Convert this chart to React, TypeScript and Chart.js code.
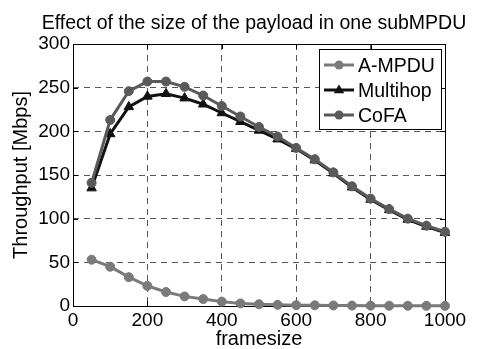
import React, { useEffect, useRef } from "react";
import { Chart, registerables } from "chart.js";

Chart.register(...registerables);

const frameSizes = [50, 100, 150, 200, 250, 300, 350, 400, 450, 500, 550, 600, 650, 700, 750, 800, 850, 900, 950, 1000];
const ampdu = [53, 45, 33, 23, 16, 11, 8, 5, 3, 2, 1.3, 1, 0.8, 0.6, 0.5, 0.4, 0.3, 0.3, 0.2, 0.2];
const multihop = [135, 197, 228, 240, 243, 238, 231, 221, 211, 201, 191, 180, 167, 152, 136, 122, 110, 99, 91, 84];
const cofa = [141, 213, 246, 257, 257, 251, 241, 229, 217, 205, 194, 181, 168, 153, 137, 123, 111, 100, 92, 85];
const xTicks = [0, 200, 400, 600, 800, 1000];
const yTicks = [0, 50, 100, 150, 200, 250, 300];
const seriesNames = ["A-MPDU", "Multihop", "CoFA"];
const titleText = "Effect of the size of the payload in one subMPDU";
const xTitle = "framesize";
const yTitle = "Throughput [Mbps]";

const FONT = "'Liberation Sans', Arial, Helvetica, sans-serif";
const colors = ["#7a7a7a", "#111111", "#5a5a5a"];
const shapes = ["circle", "triangle", "circle"];
const radii = [4.5, 5.5, 4.5];

const framePlugin = {
  id: "matlabFrame",
  beforeDatasetsDraw(chart: any) {
    const { ctx, chartArea: a, scales } = chart;
    ctx.save();
    ctx.strokeStyle = "#000";
    ctx.lineWidth = 1;
    ctx.setLineDash([]);
    ctx.strokeRect(Math.round(a.left) + 0.5, Math.round(a.top) + 0.5, Math.round(a.right - a.left), Math.round(a.bottom - a.top));
    const tl = 5;
    ctx.beginPath();
    xTicks.forEach((v) => {
      const x = Math.round(scales.x.getPixelForValue(v)) + 0.5;
      ctx.moveTo(x, a.bottom);
      ctx.lineTo(x, a.bottom - tl);
      ctx.moveTo(x, a.top);
      ctx.lineTo(x, a.top + tl);
    });
    yTicks.forEach((v) => {
      const y = Math.round(scales.y.getPixelForValue(v)) + 0.5;
      ctx.moveTo(a.left, y);
      ctx.lineTo(a.left + tl, y);
      ctx.moveTo(a.right, y);
      ctx.lineTo(a.right - tl, y);
    });
    ctx.stroke();
    ctx.restore();
  },
  afterDraw(chart: any) {
    const { ctx } = chart;
    ctx.save();
    ctx.setLineDash([]);
    // title
    ctx.fillStyle = "#000";
    ctx.font = `19.5px ${FONT}`;
    ctx.textAlign = "center";
    ctx.textBaseline = "alphabetic";
    ctx.fillText(titleText, 254, 28.5);
    // legend box
    const bx = 319.5, by = 49.5, bw = 122, bh = 80;
    ctx.fillStyle = "#fff";
    ctx.fillRect(bx, by, bw, bh);
    ctx.strokeStyle = "#000";
    ctx.lineWidth = 1;
    ctx.strokeRect(bx, by, bw, bh);
    ctx.font = `19.5px ${FONT}`;
    ctx.textAlign = "left";
    seriesNames.forEach((name, i) => {
      const ly = 65 + i * 25;
      ctx.strokeStyle = colors[i];
      ctx.lineWidth = 3;
      ctx.beginPath();
      ctx.moveTo(324, ly);
      ctx.lineTo(354, ly);
      ctx.stroke();
      ctx.fillStyle = colors[i];
      ctx.beginPath();
      if (shapes[i] === "triangle") {
        const r = radii[i];
        ctx.moveTo(339, ly - r);
        ctx.lineTo(339 + r * 0.95, ly + r * 0.6);
        ctx.lineTo(339 - r * 0.95, ly + r * 0.6);
        ctx.closePath();
      } else {
        ctx.arc(339, ly, radii[i], 0, Math.PI * 2);
      }
      ctx.fill();
      ctx.fillStyle = "#000";
      ctx.fillText(name, 358, ly + 7);
    });
    ctx.restore();
  },
};

export default function App() {
  const ref = useRef<HTMLCanvasElement>(null);
  useEffect(() => {
    if (!ref.current) return;
    const series = [ampdu, multihop, cofa];
    const chart = new Chart(ref.current, {
      type: "line",
      data: {
        datasets: series.map((vals, i) => ({
          label: seriesNames[i],
          data: frameSizes.map((x, j) => ({ x, y: vals[j] })),
          borderColor: colors[i],
          backgroundColor: colors[i],
          borderWidth: 3,
          pointStyle: shapes[i] as any,
          pointRadius: radii[i],
          pointBorderWidth: 1,
          pointBorderColor: colors[i],
          pointBackgroundColor: colors[i],
          tension: 0,
          clip: false as any,
          order: i === 2 ? 0 : i === 1 ? 1 : 2,
        })),
      },
      plugins: [framePlugin],
      options: {
        animation: false,
        responsive: false,
        devicePixelRatio: 1,
        layout: { padding: { left: 0, right: 37, top: 44, bottom: 0 } },
        plugins: { legend: { display: false }, title: { display: false }, tooltip: { enabled: false } },
        scales: {
          x: {
            type: "linear",
            min: 0,
            max: 1000,
            afterBuildTicks: (s: any) => { s.ticks = xTicks.map((v) => ({ value: v })); },
            afterFit: (s: any) => { s.height = 43; },
            border: { display: false, dash: [6, 5] },
            grid: { color: "#555", lineWidth: 1, drawTicks: false },
            ticks: { color: "#000", padding: 3, font: { family: FONT, size: 19 }, maxRotation: 0, callback: (v: any) => String(v) },
            title: { display: true, text: xTitle, color: "#000", font: { family: FONT, size: 20, lineHeight: 1 }, padding: { top: 0, bottom: 0 } },
          },
          y: {
            type: "linear",
            min: 0,
            max: 300,
            afterBuildTicks: (s: any) => { s.ticks = yTicks.map((v) => ({ value: v })); },
            afterFit: (s: any) => { s.width = 73; },
            border: { display: false, dash: [6, 5] },
            grid: { color: "#555", lineWidth: 1, drawTicks: false },
            ticks: { color: "#000", padding: 3, font: { family: FONT, size: 19 }, callback: (v: any) => String(v) },
            title: { display: true, text: yTitle, color: "#000", font: { family: FONT, size: 20, lineHeight: 1 }, padding: { top: 11, bottom: 0 } },
          },
        },
      } as any,
    });
    return () => chart.destroy();
  }, []);
  return (
    <div style={{ position: "fixed", left: 0, top: 0, width: 482, height: 349, background: "#fff" }}>
      <canvas ref={ref} width={482} height={349} />
    </div>
  );
}
